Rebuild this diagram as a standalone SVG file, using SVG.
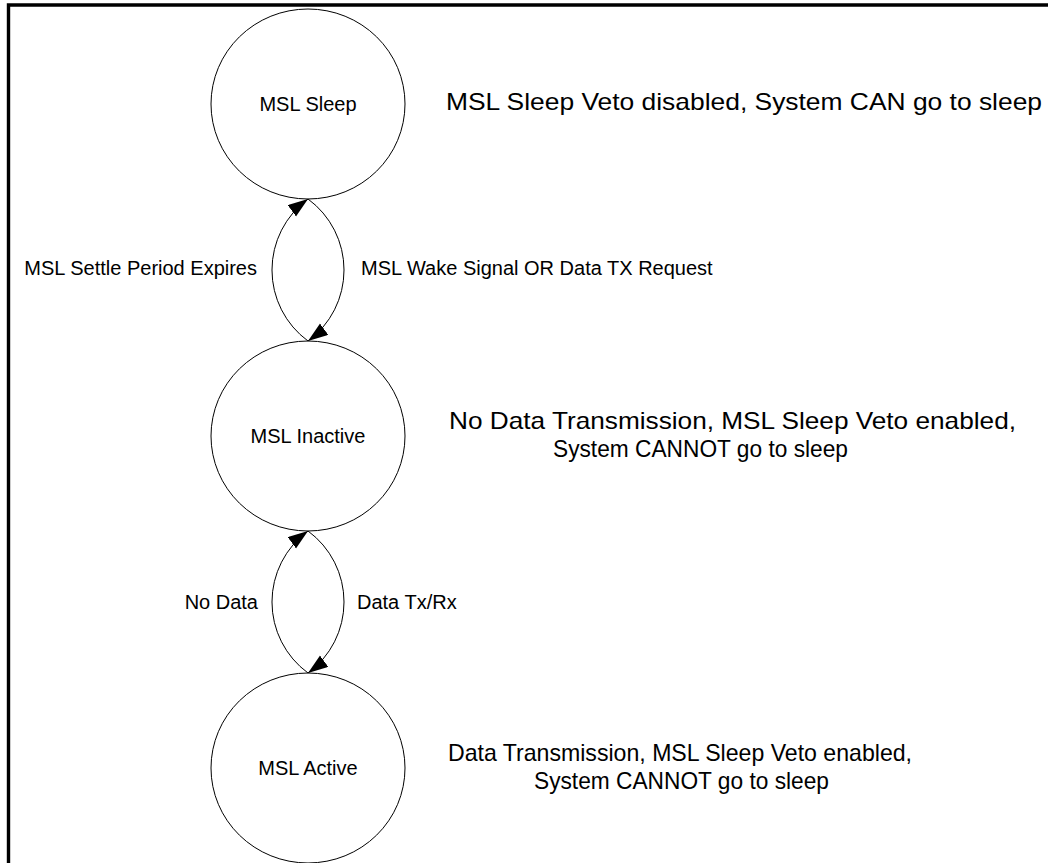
<svg xmlns="http://www.w3.org/2000/svg" width="1048" height="863" viewBox="0 0 1048 863">
<style>
.state{fill:#fff;stroke:#000;stroke-width:1}
.lbl{font-family:"Liberation Sans",Arial,sans-serif;font-size:20px;fill:#000}
.desc{font-family:"Liberation Sans",Arial,sans-serif;font-size:24px;fill:#000}
.edge{fill:none;stroke:#000;stroke-width:1;marker-end:url(#arr)}
</style>
<defs>
<marker id="arr" markerUnits="userSpaceOnUse" markerWidth="22" markerHeight="16" refX="20" refY="7" orient="auto">
<path d="M0,0 L20,7 L0,14 z" fill="#000"/>
</marker>
</defs>
<rect width="1048" height="863" fill="#fff"/>
<path d="M8.5,863 V5 H1048" fill="none" stroke="#000" stroke-width="3.4"/>
<g id="sleep">
<ellipse class="state" cx="308" cy="104" rx="97" ry="95"/>
<text class="lbl" x="308" y="111" text-anchor="middle">MSL Sleep</text>
</g>
<g id="inactive">
<ellipse class="state" cx="308" cy="436" rx="97" ry="95"/>
<text class="lbl" x="308" y="443" text-anchor="middle">MSL Inactive</text>
</g>
<g id="active">
<ellipse class="state" cx="308" cy="768" rx="97" ry="95"/>
<text class="lbl" x="308" y="775" text-anchor="middle">MSL Active</text>
</g>
<g id="connectors">
<path class="edge" d="M308,341 A88,88 0 0,1 308,199"/>
<path class="edge" d="M308,199 A88,88 0 0,1 308,341"/>
<path class="edge" d="M308,673 A88,88 0 0,1 308,531"/>
<path class="edge" d="M308,531 A88,88 0 0,1 308,673"/>
<text class="lbl" x="257" y="275" text-anchor="end" font-size="21">MSL Settle Period Expires</text>
<text class="lbl" x="361" y="275">MSL Wake Signal OR Data TX Request</text>
<text class="lbl" x="258" y="609" text-anchor="end">No Data</text>
<text class="lbl" x="357" y="609">Data Tx/Rx</text>
</g>
<g id="descriptions">
<text class="desc" x="446" y="110" textLength="596" lengthAdjust="spacingAndGlyphs">MSL Sleep Veto disabled, System CAN go to sleep</text>
<text class="desc" x="449" y="429" textLength="567" lengthAdjust="spacingAndGlyphs">No Data Transmission, MSL Sleep Veto enabled,</text>
<text class="desc" x="553" y="457" textLength="295" lengthAdjust="spacingAndGlyphs">System CANNOT go to sleep</text>
<text class="desc" x="448" y="761" textLength="464" lengthAdjust="spacingAndGlyphs">Data Transmission, MSL Sleep Veto enabled,</text>
<text class="desc" x="534" y="789" textLength="295" lengthAdjust="spacingAndGlyphs">System CANNOT go to sleep</text>
</g>
</svg>
